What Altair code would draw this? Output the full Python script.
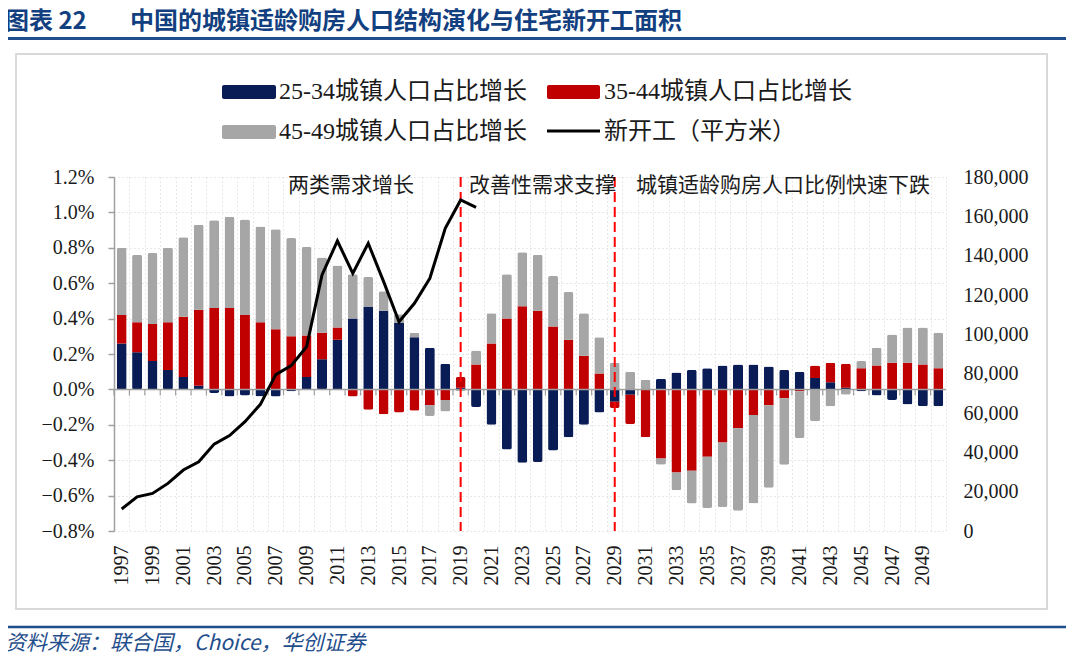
import altair as alt
import pandas as pd

# ---------------- data ----------------
years = list(range(1997, 2051))

# 25-34 urban population share growth (%)
s25 = [0.26, 0.21, 0.16, 0.11, 0.07, 0.02, -0.02, -0.04, -0.035, -0.04,
       -0.04, -0.01, 0.07, 0.17, 0.28, 0.40, 0.465, 0.445, 0.375, 0.295,
       0.235, 0.145, 0.01, -0.10, -0.20, -0.34, -0.415, -0.41, -0.345, -0.27,
       -0.20, -0.13, -0.07, -0.03, 0.0, 0.06, 0.095, 0.11, 0.12, 0.135,
       0.14, 0.14, 0.13, 0.11, 0.10, 0.065, 0.04, 0.01, -0.01, -0.035,
       -0.06, -0.085, -0.095, -0.095]
# 35-44 urban population share growth (%)
s35 = [0.16, 0.17, 0.21, 0.27, 0.34, 0.43, 0.46, 0.46, 0.42, 0.38,
       0.34, 0.30, 0.235, 0.15, 0.07, -0.04, -0.115, -0.14, -0.13, -0.12,
       -0.09, -0.06, 0.06, 0.14, 0.26, 0.40, 0.47, 0.445, 0.355, 0.28,
       0.19, 0.09, -0.035, -0.165, -0.27, -0.39, -0.47, -0.46, -0.38, -0.30,
       -0.22, -0.145, -0.09, -0.05, -0.01, 0.07, 0.11, 0.135, 0.12, 0.135,
       0.15, 0.15, 0.14, 0.12]
# 45-49 urban population share growth (%)
s45 = [0.38, 0.38, 0.40, 0.42, 0.45, 0.48, 0.495, 0.515, 0.54, 0.54,
       0.565, 0.555, 0.50, 0.425, 0.35, 0.25, 0.17, 0.11, 0.05, 0.025,
       -0.06, -0.065, -0.01, 0.08, 0.17, 0.25, 0.305, 0.315, 0.285, 0.27,
       0.24, 0.205, 0.15, 0.10, 0.055, -0.035, -0.10, -0.185, -0.29, -0.365,
       -0.465, -0.50, -0.465, -0.375, -0.265, -0.18, -0.095, -0.03, 0.04, 0.10,
       0.16, 0.20, 0.21, 0.20]

line_years = list(range(1997, 2021))
starts = [11200, 17400, 19100, 24200, 31000, 35200, 44200, 48500, 55600, 64400,
          79500, 84100, 93700, 130200, 147500, 131000, 146300, 126800, 106400, 115800,
          128500, 153900, 168300, 164600]

series_names = ["25-34城镇人口占比增长", "35-44城镇人口占比增长", "45-49城镇人口占比增长"]
series_colors = ["#0a1c56", "#c00000", "#a6a6a6"]
line_name = "新开工（平方米）"
divider_years = [2019, 2029]
phase_labels = ["两类需求增长", "改善性需求支撑", "城镇适龄购房人口比例快速下跌"]
left_ticks = [-0.8, -0.6, -0.4, -0.2, 0.0, 0.2, 0.4, 0.6, 0.8, 1.0, 1.2]
right_ticks = [0, 20000, 40000, 60000, 80000, 100000, 120000, 140000, 160000, 180000]
title_num = "图表 22"
title_text = "中国的城镇适龄购房人口结构演化与住宅新开工面积"
source_text = "资料来源：联合国，Choice，华创证券"

# ---------------- tables ----------------
rows = []
for i, (name, vals) in enumerate(zip(series_names, [s25, s35, s45])):
    for yr, v in zip(years, vals):
        rows.append({"year": yr, "series": name, "value": v, "ord": i})
bars_df = pd.DataFrame(rows)
line_df = pd.DataFrame({"year": line_years, "starts": starts})
div_df = pd.DataFrame({"year": divider_years})
year_df = pd.DataFrame({"year": years})
one = pd.DataFrame({"k": [0]})

W, H = 832, 354
OX, OY = 114, 177  # page position of plot origin

SERIF = "Liberation Serif, Noto Sans CJK SC"
CJK = "Noto Sans CJK SC"
GRID = "#d0d0d0"
AXC = "#a0a0a0"

xscale = alt.Scale(domain=years, paddingInner=0, paddingOuter=0)
xaxis = alt.Axis(title=None, domain=False, ticks=False, grid=True, tickBand="extent",
                 gridDash=[1, 3], gridColor=GRID, gridWidth=1,
                 labelAngle=270, labelFont="Liberation Serif", labelFontSize=20,
                 labelColor="#1a1a1a", labelPadding=14,
                 labelExpr="(toNumber(datum.value) - 1997) % 2 == 0 ? datum.label : ''")
yl_scale = alt.Scale(domain=[-0.8, 1.2], nice=False, zero=False)
yl_axis = alt.Axis(title=None, values=left_ticks,
                   labelExpr="format(datum.value, '.1f') + '%'",
                   domain=True, domainColor=AXC, domainWidth=1.5,
                   ticks=True, tickColor=AXC, tickSize=6, tickWidth=1.5,
                   labelFont="Liberation Serif", labelFontSize=20, labelColor="#1a1a1a",
                   labelPadding=14, grid=True, gridDash=[1, 3], gridColor=GRID)
yr_scale = alt.Scale(domain=[0, 180000], nice=False)
yr_axis = alt.Axis(title=None, orient="right", values=right_ticks, format=",.0f",
                   domain=False, ticks=False, grid=False, labelPadding=17,
                   labelFont="Liberation Serif", labelFontSize=20, labelColor="#1a1a1a")


def X(**kw):
    return alt.X("year:O", scale=xscale, axis=xaxis, **kw)


bars = alt.Chart(bars_df).mark_bar(size=10, cornerRadius=2).encode(
    x=X(),
    y=alt.Y("value:Q", scale=yl_scale, axis=yl_axis, stack="zero"),
    color=alt.Color("series:N", scale=alt.Scale(domain=series_names, range=series_colors),
                    legend=None),
    order=alt.Order("ord:Q", sort="ascending"),
)

zero_line = alt.Chart(one).mark_rule(color=AXC, strokeWidth=1.5).encode(
    y=alt.Y(datum=0, scale=yl_scale, axis=yl_axis),
    x=alt.value(0), x2=alt.value(W),
)

zero_ticks = alt.Chart(year_df).mark_rule(color=AXC, strokeWidth=1.2).encode(
    x=alt.X("year:O", scale=xscale, axis=xaxis, bandPosition=0),
    y=alt.Y(datum=0, scale=yl_scale, axis=yl_axis),
    y2=alt.datum(-0.035),
)

dividers = alt.Chart(div_df).mark_rule(color="#ff0000", strokeWidth=2,
                                       strokeDash=[10, 5]).encode(
    x=X(), y=alt.value(0), y2=alt.value(H),
)

left_group = alt.layer(zero_ticks, bars, zero_line, dividers)

line = alt.Chart(line_df).mark_line(color="black", strokeWidth=3).encode(
    x=X(),
    y=alt.Y("starts:Q", scale=yr_scale, axis=yr_axis),
)


def px(x):
    return x - OX


def py(y):
    return y - OY


def txt(text, x, y, size, font=SERIF, color="#1a1a1a", **kw):
    return alt.Chart(one).mark_text(text=text, fontSize=size, font=font, color=color,
                                    align="left", baseline="middle", **kw).encode(
        x=alt.value(px(x)), y=alt.value(py(y)))


def box(x1, y1, x2, y2, **kw):
    return alt.Chart(one).mark_rect(**kw).encode(
        x=alt.value(px(x1)), x2=alt.value(px(x2)),
        y=alt.value(py(y1)), y2=alt.value(py(y2)))


def hline(x1, x2, y, color, width):
    return alt.Chart(one).mark_rule(color=color, strokeWidth=width).encode(
        x=alt.value(px(x1)), x2=alt.value(px(x2)), y=alt.value(py(y)))


deco = [
    box(16, 54, 1047, 609, fillOpacity=0, stroke="#d9d9d9", strokeWidth=2),
    hline(3, 1066, 38.5, "#1f4e8c", 3),
    hline(3, 1066, 627, "#1f4e8c", 2.5),
    txt(title_num, 5, 22, 24, font=CJK, color="#123f80", fontWeight="bold"),
    txt(title_text, 130, 22, 24, font=CJK, color="#123f80", fontWeight="bold"),
    txt(source_text, 5, 644, 21, font=CJK, color="#1f4e8c", fontStyle="italic"),
    # legend
    box(222, 85, 276, 99, color=series_colors[0], cornerRadius=2),
    box(547, 85, 600, 99, color=series_colors[1], cornerRadius=2),
    box(222, 125, 276, 139, color=series_colors[2], cornerRadius=2),
    hline(547, 600, 131, "black", 3),
    txt(series_names[0], 279, 92, 24),
    txt(series_names[1], 604, 92, 24),
    txt(series_names[2], 279, 132, 24),
    txt(line_name, 604, 132, 24),
    # phase annotations
    txt(phase_labels[0], 288, 186, 21),
    txt(phase_labels[1], 469, 186, 21),
    txt(phase_labels[2], 636, 186, 21),
]

chart = alt.layer(left_group, line, *deco).resolve_scale(y="independent").properties(
    width=W, height=H,
    padding={"left": OX - 8, "top": OY - 8, "right": 120, "bottom": 127},
    autosize=alt.AutoSizeParams(type="none"),
).configure_view(stroke=None)

chart.save("out.html", embed_options={"renderer": "svg", "actions": False})
